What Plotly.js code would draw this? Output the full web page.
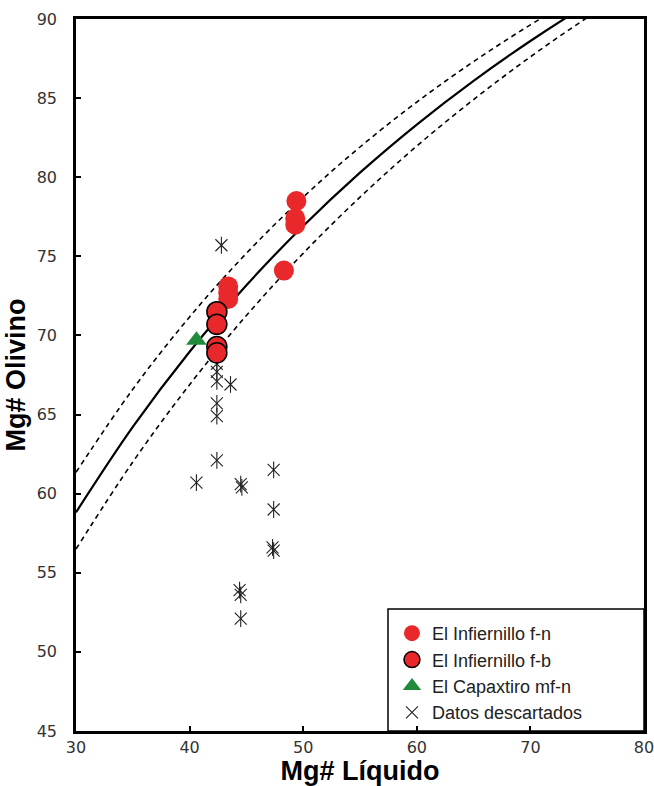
<!DOCTYPE html>
<html>
<head>
<meta charset="utf-8">
<script src="https://cdn.plot.ly/plotly-3.0.1.min.js"></script>
<style>html,body{margin:0;padding:0;background:#fff;}#chart{width:654px;height:786px;}</style>
</head>
<body>
<div id="chart"></div>
<script>
// Equilibrium curves (Kd = 0.30 solid, 0.27 / 0.33 dashed)
const curveX = [30, 35, 40, 45, 50, 55, 60, 65, 70, 75, 80];
const curveMid = [58.82, 64.22, 68.97, 73.17, 76.92, 80.29, 83.33, 86.09, 88.61, 90.91, 93.02];
const curveUpper = [61.35, 66.60, 71.17, 75.19, 78.74, 81.91, 84.75, 87.31, 89.63, 91.74, 93.67];
const curveLower = [56.50, 62.00, 66.89, 71.26, 75.19, 78.74, 81.97, 84.91, 87.61, 90.09, 92.38];

// El Infiernillo f-n
const fnX = [49.4, 49.3, 49.3, 48.3, 43.4, 43.4, 43.4];
const fnY = [78.5, 77.4, 77.0, 74.1, 73.1, 72.7, 72.3];
// El Infiernillo f-b
const fbX = [42.4, 42.4, 42.4, 42.4];
const fbY = [71.5, 70.7, 69.3, 68.9];
// El Capaxtiro mf-n
const capX = [40.6];
const capY = [69.7];
// Datos descartados
const descX = [42.8, 42.4, 42.4, 42.4, 43.6, 42.4, 42.4, 42.4, 40.6, 44.5, 44.6, 47.4, 47.4, 47.3, 47.4, 44.4, 44.5, 44.5];
const descY = [75.7, 68.2, 67.7, 67.1, 66.9, 65.7, 64.9, 62.1, 60.7, 60.6, 60.4, 61.5, 59.0, 56.6, 56.4, 53.9, 53.6, 52.1];

const names = ['El Infiernillo f-n', 'El Infiernillo f-b', 'El Capaxtiro mf-n', 'Datos descartados'];
const red = '#e8282b';
const green = '#1f8b3b';

const traces = [
  {x: curveX, y: curveUpper, mode: 'lines', line: {color: '#000', width: 1.6, dash: '5px,4px', shape: 'spline'}, showlegend: false, hoverinfo: 'skip'},
  {x: curveX, y: curveLower, mode: 'lines', line: {color: '#000', width: 1.6, dash: '5px,4px', shape: 'spline'}, showlegend: false, hoverinfo: 'skip'},
  {x: curveX, y: curveMid, mode: 'lines', line: {color: '#000', width: 2.2, shape: 'spline'}, showlegend: false, hoverinfo: 'skip'},
  {x: descX, y: descY, mode: 'markers', name: names[3], legendgroup: 'd', legendrank: 4,
   marker: {symbol: 'x-thin', size: 12, line: {color: '#222', width: 1.1}}},
  {x: descX, y: descY, mode: 'markers', name: names[3], legendgroup: 'd', showlegend: false,
   marker: {symbol: 'line-ns', size: 12, line: {color: '#222', width: 1.1}}},
  {x: fnX, y: fnY, mode: 'markers', name: names[0], legendgroup: 'a', legendrank: 1,
   marker: {symbol: 'circle', size: 20, color: red, line: {width: 0}}},
  {x: fbX, y: fbY, mode: 'markers', name: names[1], legendgroup: 'b', legendrank: 2,
   marker: {symbol: 'circle', size: 20, color: red, line: {color: '#000', width: 1.5}}},
  {x: capX, y: capY, mode: 'markers', name: names[2], legendgroup: 'c', legendrank: 3,
   marker: {symbol: 'triangle-up', size: 18, color: green, line: {width: 0}}}
];

const tickFont = {family: 'DejaVu Sans, Verdana, sans-serif', size: 16, color: '#333'};
const titleFont = {family: 'Liberation Sans Narrow, Liberation Sans, Arial, sans-serif', size: 27, color: '#000', weight: 'bold'};

const layout = {
  width: 654, height: 786,
  margin: {l: 76, r: 10, t: 19, b: 55},
  paper_bgcolor: '#fff', plot_bgcolor: '#fff',
  showlegend: true,
  legend: {
    x: 0.5563, y: 0.1629, xanchor: 'left', yanchor: 'top',
    bgcolor: 'rgba(0,0,0,0)', borderwidth: 0,
    font: {family: 'Liberation Sans, Arial, sans-serif', size: 18, color: '#222'},
    tracegroupgap: 0, traceorder: 'grouped'
  },
  xaxis: {
    range: [30, 80], dtick: 10, tick0: 30,
    ticks: 'inside', ticklen: 5, tickwidth: 2, tickcolor: '#000',
    showline: true, linewidth: 2.5, linecolor: '#000', mirror: true,
    showgrid: false, zeroline: false,
    ticklabeloverflow: 'allow',
    tickfont: tickFont,
    title: {text: 'Mg# Líquido', font: titleFont, standoff: 1}
  },
  yaxis: {
    range: [45, 90], dtick: 5, tick0: 45,
    ticks: 'inside', ticklen: 5, tickwidth: 2, tickcolor: '#000',
    showline: true, linewidth: 2.5, linecolor: '#000', mirror: true,
    showgrid: false, zeroline: false,
    ticklabelstandoff: 13,
    ticklabeloverflow: 'allow',
    tickfont: tickFont,
    title: {text: 'Mg# Olivino', font: titleFont, standoff: 4}
  },
  shapes: [{
    type: 'rect', xref: 'paper', yref: 'paper',
    x0: 0.5493, x1: 1, y0: 0, y1: 0.1713,
    line: {color: '#000', width: 1.5}, fillcolor: 'rgba(0,0,0,0)', layer: 'above'
  }]
};

Plotly.newPlot('chart', traces, layout, {displayModeBar: false, responsive: false});
</script>
</body>
</html>
